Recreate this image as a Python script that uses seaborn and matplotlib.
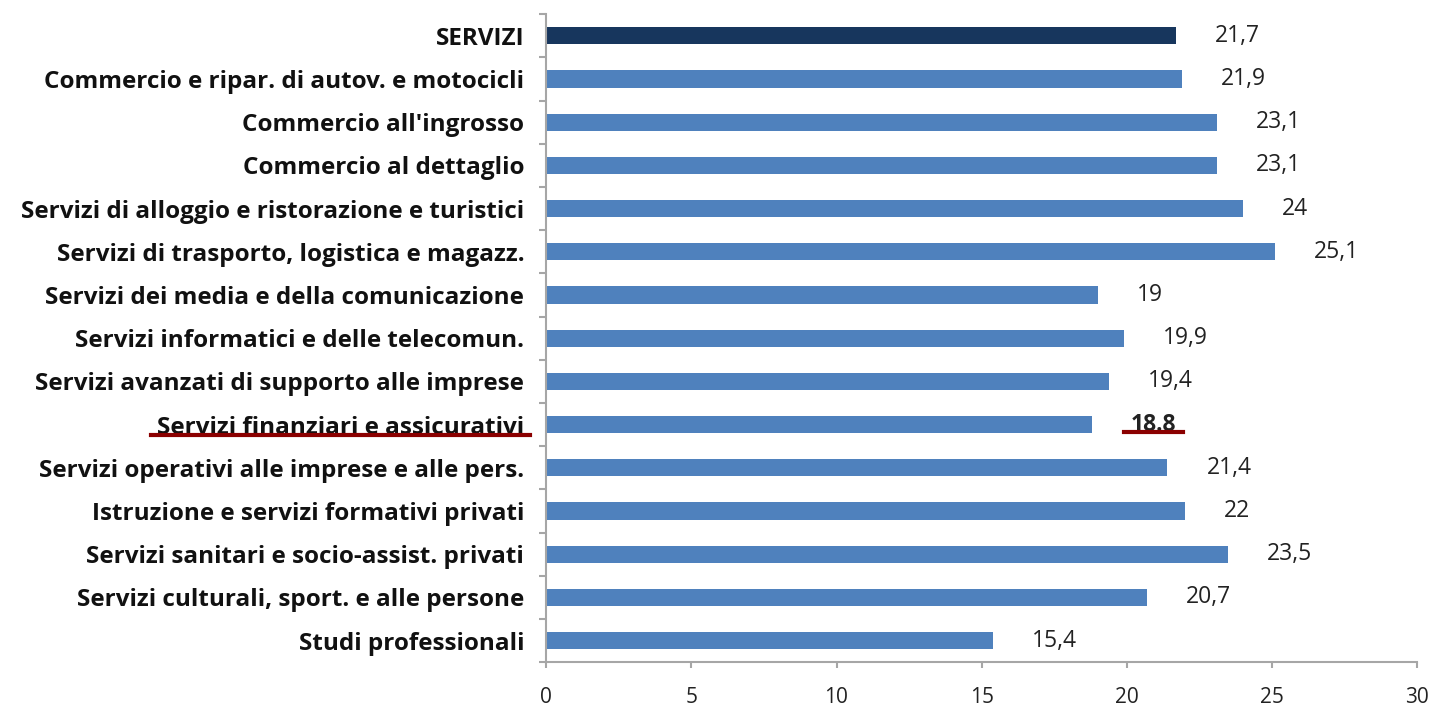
import matplotlib
matplotlib.use('Agg')
import matplotlib.pyplot as plt
import seaborn as sns
import pandas as pd
from matplotlib.lines import Line2D
from matplotlib.ticker import FixedLocator

# Dati
categorie = [
    "SERVIZI",
    "Commercio e ripar. di autov. e motocicli",
    "Commercio all'ingrosso",
    "Commercio al dettaglio",
    "Servizi di alloggio e ristorazione e turistici",
    "Servizi di trasporto, logistica e magazz.",
    "Servizi dei media e della comunicazione",
    "Servizi informatici e delle telecomun.",
    "Servizi avanzati di supporto alle imprese",
    "Servizi finanziari e assicurativi",
    "Servizi operativi alle imprese e alle pers.",
    "Istruzione e servizi formativi privati",
    "Servizi sanitari e socio-assist. privati",
    "Servizi culturali, sport. e alle persone",
    "Studi professionali",
]
valori = [21.7, 21.9, 23.1, 23.1, 24, 25.1, 19, 19.9, 19.4, 18.8, 21.4, 22, 23.5, 20.7, 15.4]
etichette = ["21,7", "21,9", "23,1", "23,1", "24", "25,1", "19", "19,9", "19,4", "18.8",
             "21,4", "22", "23,5", "20,7", "15,4"]
evidenziato = "Servizi finanziari e assicurativi"

# Colori
colore_barra = '#4F81BD'
colore_totale = '#17365D'
colore_asse = '#A6A6A6'
colore_rosso = '#8B0000'
font = 'Open Sans'

df = pd.DataFrame({'cat': categorie, 'val': valori})
palette = [colore_totale] + [colore_barra] * (len(categorie) - 1)

fig = plt.figure(figsize=(14.34, 7.09), dpi=100)
ax = fig.add_axes([0.381, 0.066, 0.607, 0.914])
sns.barplot(data=df, x='val', y='cat', hue='cat', palette=palette, legend=False,
            orient='h', width=0.4, ax=ax, saturation=1)

ax.set_xlim(0, 30)
ax.set_ylim(len(categorie) - 0.5, -0.5)
ax.set_xticks(range(0, 31, 5))
ax.set_xlabel('')
ax.set_ylabel('')
for s in ['top', 'right']:
    ax.spines[s].set_visible(False)
for s in ['left', 'bottom']:
    ax.spines[s].set_color(colore_asse)
    ax.spines[s].set_linewidth(1.5)

ax.yaxis.set_minor_locator(FixedLocator([i - 0.5 for i in range(len(categorie) + 1)]))
ax.tick_params(axis='y', which='major', length=0, pad=16)
ax.tick_params(axis='y', which='minor', length=5, width=1.5, color=colore_asse)
ax.tick_params(axis='x', length=4.5, width=1.5, color=colore_asse, pad=13)

for lab in ax.get_yticklabels():
    lab.set_fontfamily(font)
    lab.set_fontweight('bold')
    lab.set_fontsize(17.5)
    lab.set_color('#111111')
for lab in ax.get_xticklabels():
    lab.set_fontfamily(font)
    lab.set_fontsize(15)
    lab.set_color('#222222')

testi_val = []
for i, (v, t) in enumerate(zip(valori, etichette)):
    peso = 'bold' if categorie[i] == evidenziato else 'normal'
    tx = ax.text(v + 1.35, i, t, va='center', ha='left', fontsize=16.5,
                 family=font, color='#222222', fontweight=peso)
    testi_val.append(tx)

# Sottolineatura rossa
fig.canvas.draw()
renderer = fig.canvas.get_renderer()
idx = categorie.index(evidenziato)
inv = fig.transFigure.inverted()
for artist, extra in [(ax.get_yticklabels()[idx], 6), (testi_val[idx], 7)]:
    bb = artist.get_window_extent(renderer)
    yb = bb.y0 + 0.18 * bb.height
    (x0, y0), (x1, _) = inv.transform([(bb.x0 - extra, yb), (bb.x1 + extra, yb)])
    fig.add_artist(Line2D([x0, x1], [y0, y0], transform=fig.transFigure,
                          color=colore_rosso, linewidth=3))

fig.savefig('out.png', dpi=100, facecolor='white')
